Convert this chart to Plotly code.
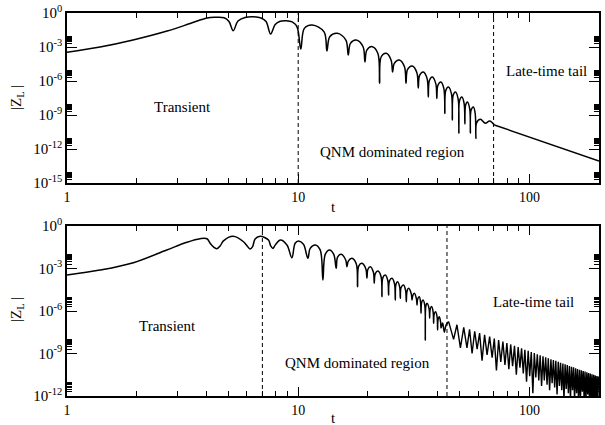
import numpy as np
import plotly.graph_objects as go

# ---------------- data ----------------
# Top panel: |Z_L| curve (log10 values), digitised
top_t_transient = [1.0, 1.39, 1.93, 2.71, 3.41, 4.03, 4.37, 4.78, 5.02, 5.235, 5.49, 5.89, 6.38,
                   6.91, 7.26, 7.60, 7.95, 8.36, 8.87, 9.42, 9.89]
top_logz_transient = [-3.47, -3.00, -2.38, -1.59, -0.93, -0.44, -0.38, -0.42, -0.75, -1.56, -0.71,
                      -0.40, -0.33, -0.44, -0.75, -1.85, -1.02, -0.73, -0.68, -0.79, -1.24]
top_t_qnm = [10.26, 10.63, 11.5, 12.94, 13.31, 13.69, 14.75, 16.08, 16.46, 16.82, 17.82, 19.08,
             19.44, 19.81, 20.91, 22.12, 22.49, 22.86, 24.04, 25.23, 25.6, 26.04, 27.37, 28.82,
             29.26, 29.72, 31.16, 32.61, 33.07, 33.49, 34.76, 36.12, 36.54, 36.93, 38.03, 39.39,
             39.78, 40.18, 41.4, 42.68, 43.08, 43.48, 44.62, 46.02, 46.42, 46.79, 47.84, 49.17,
             49.54, 49.91, 51.04, 52.22, 52.59, 52.95, 53.91, 55.19, 55.55, 55.93, 57.24, 58.30,
             58.68, 59.1, 61.37, 64.5, 67.3, 70.55]
top_logz_qnm = [-3.18, -1.36, -1.06, -1.66, -3.35, -2.09, -1.79, -2.39, -3.71, -2.68, -2.38, -2.98,
                -4.32, -3.27, -2.97, -3.57, -6.2, -3.86, -3.56, -4.16, -5.21, -4.45, -4.15, -4.75,
                -6.2, -4.98, -4.68, -5.28, -6.62, -5.51, -5.21, -5.81, -7.41, -5.95, -5.65, -6.25,
                -7.54, -6.39, -6.09, -6.69, -8.87, -6.83, -6.53, -7.13, -9.44, -7.27, -6.97, -7.57,
                -10.59, -7.71, -7.41, -8.01, -9.79, -8.15, -7.85, -8.45, -10.59, -8.59, -8.29, -8.89,
                -11.07, -9.7, -9.38, -9.73, -9.53, -9.88]
top_t_tail = [70.55, 200.0]
top_logz_tail = [-9.88, -13.06]
top_dividers = [10, 70]

# Bottom panel
bottom_t_transient = [1.0, 1.389, 1.937, 2.70, 3.30, 3.76, 4.03, 4.16, 4.30, 4.45, 4.60, 4.75, 5.23,
                      5.80, 6.04, 6.20, 6.35, 6.51, 6.85, 7.44, 7.60, 7.77, 7.95, 8.38, 8.94, 9.39,
                      9.70, 10.03, 10.54, 11.01, 11.27, 11.85, 12.45, 12.79, 13.09, 13.66, 14.25, 14.60]
bottom_logz_transient = [-3.46, -3.11, -2.59, -1.69, -1.15, -0.90, -0.90, -1.22, -1.48, -1.60, -1.40,
                         -1.05, -0.73, -1.11, -1.45, -1.62, -1.45, -0.92, -0.73, -0.99, -1.40, -1.58,
                         -1.35, -0.99, -1.34, -2.24, -1.22, -1.06, -1.29, -2.28, -1.58, -1.34, -1.69,
                         -3.81, -2.0, -1.69, -2.0, -2.99]
bottom_t_qnm = [14.80, 15.36, 16.05, 16.25, 16.47, 17.08, 17.84, 18.06, 18.27, 18.87, 19.62, 19.83,
                20.01, 20.50, 21.15, 21.33, 21.53, 22.13, 22.83, 23.03, 23.22, 23.80, 24.41, 24.60,
                24.80, 25.44, 26.10, 26.30, 26.46, 26.91, 27.49, 27.65, 27.85, 28.56, 29.15, 29.35,
                29.56, 30.03, 30.85, 31.06, 31.25, 31.78, 32.47, 32.66, 32.82, 33.41, 33.83, 33.99,
                34.17, 34.67, 35.28, 35.46, 35.65, 36.07, 36.84, 37.03, 37.21, 37.77, 38.35, 38.53,
                38.72, 39.31, 39.90, 40.09, 40.26, 40.78, 41.31, 41.48, 42.15, 42.87, 43.60, 44.74]
bottom_logz_qnm = [-2.2, -2.0, -2.4, -2.87, -2.48, -2.28, -2.68, -4.28, -2.83, -2.63, -3.03, -3.69,
                   -3.07, -2.87, -3.27, -4.04, -3.38, -3.18, -3.58, -4.99, -3.66, -3.46, -3.86, -4.87,
                   -3.89, -3.69, -4.09, -5.22, -4.13, -3.93, -4.33, -5.10, -4.36, -4.16, -4.56, -5.34,
                   -4.60, -4.40, -4.80, -5.22, -4.95, -4.75, -5.15, -5.58, -5.19, -4.99, -5.39, -6.16,
                   -5.42, -5.22, -5.62, -8.05, -5.66, -5.46, -5.86, -6.52, -5.89, -5.69, -6.09, -6.87,
                   -6.25, -6.05, -6.45, -7.34, -6.60, -6.40, -6.80, -7.20, -6.85, -7.50, -7.00, -6.75]
bottom_tail_peak_t = [48.6, 52.0, 55.1, 58.0, 60.9, 64.0, 67.3, 70.5, 73.6, 76.8, 79.9, 83.0, 86.2,
                      89.4, 92.5, 95.6, 98.8, 101.9, 105.0, 108.2, 111.3, 114.5, 117.6, 120.7, 123.9,
                      127.0, 130.1, 133.3, 136.4, 139.6, 142.7, 145.8, 149.0, 152.1, 155.2, 158.4,
                      161.5, 164.7, 167.8, 170.9, 174.0, 177.2, 180.3, 183.5, 186.6, 189.8, 192.9,
                      196.0, 199.1]
bottom_tail_peak_logz = [-6.97, -7.15, -7.30, -7.43, -7.56, -7.68, -7.81, -7.94, -8.05, -8.16, -8.26,
                         -8.36, -8.46, -8.55, -8.64, -8.73, -8.81, -8.89, -8.97, -9.05, -9.12, -9.19,
                         -9.26, -9.33, -9.40, -9.46, -9.52, -9.59, -9.65, -9.71, -9.76, -9.82, -9.88,
                         -9.93, -9.98, -10.04, -10.09, -10.14, -10.18, -10.23, -10.28, -10.33, -10.37,
                         -10.42, -10.46, -10.50, -10.55, -10.59, -10.63]
bottom_tail_trough_t = [47.0, 50.3, 53.7, 56.5, 59.4, 62.4, 65.6, 69.0, 72.0, 75.2, 78.4, 81.5, 84.6,
                        87.8, 91.0, 94.1, 97.2, 100.3, 103.5, 106.6, 109.8, 112.9, 116.0, 119.2, 122.3,
                        125.4, 128.6, 131.7, 134.9, 138.0, 141.1, 144.3, 147.4, 150.5, 153.7, 156.8,
                        160.0, 163.1, 166.2, 169.4, 172.5, 175.6, 178.8, 181.9, 185.1, 188.2, 191.3,
                        194.5, 197.6]
bottom_tail_trough_logz = [-8.0, -8.6, -8.6, -9.0, -8.7, -9.5, -9.1, -9.3, -10.2, -9.6, -9.8, -10.1,
                           -9.9, -10.5, -10.0, -10.4, -11.0, -10.6, -11.8, -10.7, -10.9, -11.3, -10.9,
                           -11.2, -11.6, -11.1, -11.4, -11.9, -11.3, -11.6, -12.3, -11.5, -11.8, -12.3,
                           -11.6, -12.3, -11.8, -12.3, -12.3, -11.7, -12.3, -12.3, -11.9, -12.3, -12.3,
                           -12.3, -12.3, -12.3, -12.3]
bottom_dividers = [7, 44]

x_major = [1, 10, 100]
x_major_text = ["1", "10", "100"]
x_minor = [2, 3, 4, 5, 6, 7, 8, 9, 20, 30, 40, 50, 60, 70, 80, 90, 200]
top_y_major_exp = [0, -3, -6, -9, -12, -15]
bottom_y_major_exp = [0, -3, -6, -9, -12]

# ---------------- build series ----------------
top_t_main = top_t_transient + top_t_qnm
top_z_main = [10 ** v for v in top_logz_transient + top_logz_qnm]
top_z_tail = [10 ** v for v in top_logz_tail]

bottom_t_main = bottom_t_transient + bottom_t_qnm
bottom_z_main = [10 ** v for v in bottom_logz_transient + bottom_logz_qnm]
tail_pairs = sorted(zip(bottom_tail_peak_t + bottom_tail_trough_t,
                        bottom_tail_peak_logz + bottom_tail_trough_logz))
bottom_t_tail = [bottom_t_qnm[-1]] + [p[0] for p in tail_pairs]
bottom_z_tail = [10 ** bottom_logz_qnm[-1]] + [10 ** p[1] for p in tail_pairs]

FONT = "Liberation Serif, Times New Roman, serif"
fig = go.Figure()
smooth = dict(color="black", width=1.5, shape="spline", smoothing=1)
straight = dict(color="black", width=1.4)
fig.add_trace(go.Scatter(x=top_t_main, y=top_z_main, mode="lines", line=smooth,
                         xaxis="x", yaxis="y", hoverinfo="skip"))
fig.add_trace(go.Scatter(x=top_t_tail, y=top_z_tail, mode="lines", line=straight,
                         xaxis="x", yaxis="y", hoverinfo="skip"))
fig.add_trace(go.Scatter(x=bottom_t_main, y=bottom_z_main, mode="lines", line=smooth,
                         xaxis="x2", yaxis="y2", hoverinfo="skip"))
fig.add_trace(go.Scatter(x=bottom_t_tail, y=bottom_z_tail, mode="lines", line=straight,
                         xaxis="x2", yaxis="y2", hoverinfo="skip"))
for d in top_dividers:
    fig.add_trace(go.Scatter(x=[d, d], y=[1e-15, 1], mode="lines",
                             line=dict(color="black", width=1, dash="4px,3px"),
                             xaxis="x", yaxis="y", hoverinfo="skip"))
for d in bottom_dividers:
    fig.add_trace(go.Scatter(x=[d, d], y=[1e-12, 1], mode="lines",
                             line=dict(color="black", width=1, dash="4px,3px"),
                             xaxis="x2", yaxis="y2", hoverinfo="skip"))


def x_axis(anchor):
    return dict(type="log", range=[0, np.log10(200)], anchor=anchor, automargin=False,
                tickmode="array", tickvals=x_major, ticktext=x_major_text,
                ticks="inside", ticklen=9, tickwidth=1, tickcolor="black",
                minor=dict(tickmode="array", tickvals=x_minor, ticks="inside", ticklen=5,
                           tickwidth=1, tickcolor="black", showgrid=False),
                showline=True, linecolor="black", linewidth=1.5, mirror="allticks",
                showgrid=False, zeroline=False, ticklabeloverflow="allow",
                tickfont=dict(family=FONT, size=14, color="black"))


def y_axis(anchor, exps, domain):
    lo = exps[-1]
    minor_vals = [m * 10.0 ** e for e in exps[1:] for m in range(2, 10)]
    return dict(type="log", range=[lo, 0], anchor=anchor, domain=domain, automargin=False,
                tickmode="array", tickvals=[10.0 ** e for e in exps],
                ticktext=["10<sup>%d</sup>" % e for e in exps],
                ticks="inside", ticklen=10, tickwidth=1, tickcolor="black",
                minor=dict(tickmode="array", tickvals=minor_vals, ticks="inside", ticklen=5,
                           tickwidth=1, tickcolor="black", showgrid=False),
                showline=True, linecolor="black", linewidth=1.5, mirror="allticks",
                showgrid=False, zeroline=False, ticklabeloverflow="allow",
                tickfont=dict(family=FONT, size=15, color="black"))


W, H = 605, 425
L, R, T, B = 67, 6, 13, 29
plot_h = H - T - B
plot_w = W - L - R


def py(pix):
    return (H - B - pix) / plot_h


def px(pix):
    return (pix - L) / plot_w


fig.update_layout(
    template="none",
    width=W, height=H, margin=dict(l=L, r=R, t=T, b=B, autoexpand=False),
    paper_bgcolor="white", plot_bgcolor="white", showlegend=False,
    font=dict(family=FONT, size=14, color="black"),
    xaxis=x_axis("y"), xaxis2=x_axis("y2"),
    yaxis=y_axis("x", top_y_major_exp, [py(183), 1.0]),
    yaxis2=y_axis("x2", bottom_y_major_exp, [0.0, py(226)]),
)

txt = dict(family=FONT, size=15, color="black")
ann = [
    dict(text="Transient", xref="x", yref="y", x=np.log10(3.15), y=-8.29),
    dict(text="QNM dominated region", xref="x", yref="y", x=np.log10(25.5), y=-12.24),
    dict(text="Late-time tail", xref="x", yref="y", x=np.log10(119), y=-5.09),
    dict(text="Transient", xref="x2", yref="y2", x=np.log10(2.71), y=-7.06),
    dict(text="QNM dominated region", xref="x2", yref="y2", x=np.log10(18.0), y=-9.67),
    dict(text="Late-time tail", xref="x2", yref="y2", x=np.log10(104), y=-5.39),
    dict(text="t", xref="paper", yref="paper", x=0.5, y=py(207)),
    dict(text="t", xref="paper", yref="paper", x=0.5, y=py(418)),
    dict(text="|Z<sub>L</sub> |", xref="paper", yref="paper", x=px(17), y=py(98), textangle=-90),
    dict(text="|Z<sub>L</sub> |", xref="paper", yref="paper", x=px(17), y=py(310), textangle=-90),
]
for a in ann:
    a.update(showarrow=False, font=txt, xanchor="center", yanchor="middle")
fig.update_layout(annotations=ann)

# remove the browser's default 8px body margin so the figure fills the window exactly
fig.write_html("out.html", config={"displayModeBar": False},
               post_script="document.body.style.margin='0px';")
